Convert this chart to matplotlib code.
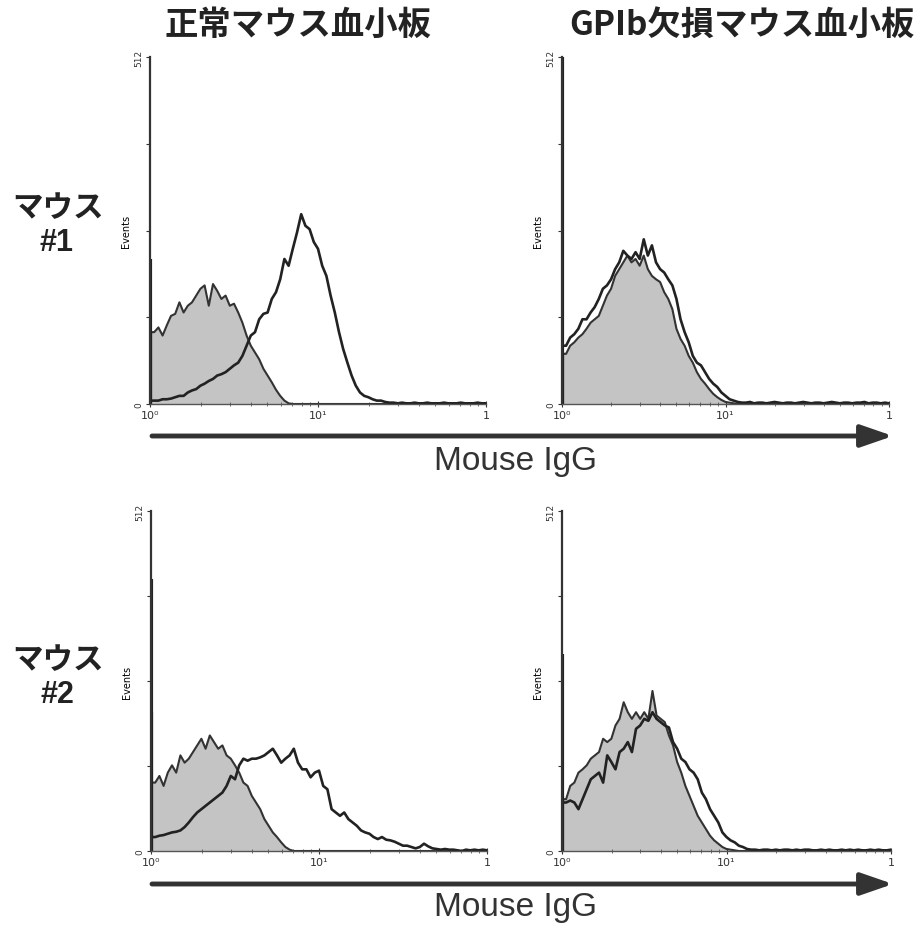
import numpy as np
import matplotlib.pyplot as plt
from matplotlib.patches import FancyArrowPatch

# histogram channels: 81 bins, 0.025 decade apart, 10^0 .. 10^2
decades = np.arange(81) * 0.025
intensity = 10 ** decades

col_titles = ['正常マウス血小板', 'GPIb欠損マウス血小板']
row_names = ['マウス', 'マウス']
row_ids = ['#1', '#2']
x_label = 'Mouse IgG'
y_label = 'Events'
x_tick_vals = [1, 10, 100]
x_tick_text = ['10⁰', '10¹', '1']
y_tick_vals = [0, 128, 256, 384, 512]
y_tick_text = ['0', '', '', '', '512']

# control (filled grey) and anti-mouse IgG (open line) counts per bin;
# the first bin holds the off-scale pile-up at the axis
normal1_ctrl = [108, 106, 113, 101, 116, 130, 133, 150, 135, 145,
                150, 160, 170, 175, 145, 177, 167, 155, 160, 145,
                148, 135, 120, 101, 86, 76, 66, 52, 42, 32,
                21, 12, 5, 1, 0, 0, 0, 0, 0, 0,
                0, 0, 0, 0, 0, 0, 0, 0, 0, 0,
                0, 0, 0, 0, 0, 0, 0, 0, 0, 0,
                0, 0, 0, 0, 0, 0, 0, 0, 0, 0,
                0, 0, 0, 0, 0, 0, 0, 0, 0, 0,
                0]
normal1_igg = [214, 5, 5, 7, 7, 8, 10, 12, 12, 17,
               20, 22, 27, 30, 34, 37, 42, 44, 47, 52,
               57, 61, 71, 86, 101, 106, 125, 133, 135, 155,
               165, 184, 214, 204, 229, 253, 280, 263, 258, 239,
               229, 204, 189, 160, 135, 106, 81, 61, 42, 27,
               17, 12, 10, 7, 5, 5, 3, 2, 2, 1,
               2, 1, 1, 2, 1, 1, 2, 1, 1, 1,
               2, 1, 1, 1, 2, 1, 1, 1, 2, 1,
               1]
gpib1_ctrl = [76, 74, 86, 91, 98, 103, 111, 120, 125, 130,
              145, 160, 170, 189, 199, 209, 219, 209, 214, 204,
              219, 199, 189, 184, 180, 165, 155, 140, 111, 96,
              86, 71, 61, 47, 37, 30, 22, 15, 10, 6,
              3, 2, 1, 0, 0, 0, 0, 0, 0, 0,
              0, 0, 0, 0, 0, 0, 0, 0, 0, 0,
              0, 0, 0, 0, 0, 0, 0, 0, 0, 0,
              0, 0, 0, 0, 0, 0, 0, 0, 0, 0,
              0]
gpib1_igg = [520, 86, 98, 103, 111, 125, 125, 135, 143, 155,
             170, 175, 184, 199, 209, 226, 219, 214, 224, 214,
             243, 219, 234, 209, 199, 194, 184, 175, 155, 125,
             106, 91, 71, 61, 57, 47, 37, 30, 25, 17,
             12, 7, 5, 3, 2, 2, 3, 1, 2, 2,
             1, 2, 3, 2, 1, 2, 2, 1, 2, 3,
             2, 1, 2, 2, 1, 2, 3, 2, 1, 2,
             2, 1, 2, 2, 3, 1, 2, 2, 1, 2,
             1]
normal2_ctrl = [209, 103, 113, 98, 118, 129, 118, 144, 133, 139,
                149, 159, 169, 154, 174, 164, 154, 159, 144, 139,
                129, 118, 103, 98, 83, 73, 63, 48, 38, 28,
                21, 13, 6, 2, 0, 0, 0, 0, 0, 0,
                0, 0, 0, 0, 0, 0, 0, 0, 0, 0,
                0, 0, 0, 0, 0, 0, 0, 0, 0, 0,
                0, 0, 0, 0, 0, 0, 0, 0, 0, 0,
                0, 0, 0, 0, 0, 0, 0, 0, 0, 0,
                0]
normal2_igg = [410, 21, 23, 24, 26, 28, 29, 31, 36, 43,
               51, 58, 63, 68, 73, 78, 83, 88, 98, 113,
               108, 129, 139, 136, 139, 139, 141, 144, 149, 154,
               144, 133, 139, 144, 154, 133, 123, 123, 111, 118,
               121, 98, 93, 63, 58, 53, 58, 48, 43, 38,
               31, 28, 26, 21, 18, 21, 17, 16, 14, 11,
               8, 8, 6, 4, 6, 11, 7, 4, 3, 2,
               3, 2, 2, 1, 0, 2, 1, 2, 1, 2,
               1]
gpib2_ctrl = [83, 78, 98, 103, 118, 123, 129, 139, 144, 149,
              169, 164, 169, 189, 199, 224, 209, 199, 209, 199,
              209, 199, 241, 204, 199, 194, 174, 159, 134, 118,
              98, 83, 68, 53, 43, 33, 23, 16, 11, 6,
              3, 2, 1, 0, 0, 0, 0, 0, 0, 0,
              0, 0, 0, 0, 0, 0, 0, 0, 0, 0,
              0, 0, 0, 0, 0, 0, 0, 0, 0, 0,
              0, 0, 0, 0, 0, 0, 0, 0, 0, 0,
              0]
gpib2_igg = [297, 73, 76, 73, 63, 78, 93, 108, 113, 118,
             103, 144, 134, 123, 149, 154, 164, 149, 184, 189,
             199, 196, 209, 199, 194, 189, 186, 164, 154, 139,
             134, 123, 118, 108, 88, 78, 63, 53, 43, 28,
             21, 16, 13, 8, 6, 3, 2, 2, 1, 2,
             2, 1, 2, 1, 2, 2, 1, 2, 1, 2,
             2, 1, 1, 2, 1, 2, 1, 1, 2, 1,
             2, 1, 2, 1, 1, 2, 1, 2, 1, 1,
             2]

panels = [[(normal1_ctrl, normal1_igg), (gpib1_ctrl, gpib1_igg)],
          [(normal2_ctrl, normal2_igg), (gpib2_ctrl, gpib2_igg)]]

plt.rcParams['font.family'] = ['Noto Sans CJK JP', 'DejaVu Sans']

W, H = 923, 928
fig = plt.figure(figsize=(W / 100, H / 100), dpi=100)


def px_box(left, top, right, bottom):
    return [left / W, 1 - bottom / H, (right - left) / W, (bottom - top) / H]


def curve(values):
    # first bin drawn as a spike on the axis, the rest as a polyline
    vals = np.asarray(values, dtype=float)
    ys = vals.copy()
    ys[0] = vals[1]
    return ys, vals[0]


boxes = [[px_box(150, 58, 486, 405), px_box(562, 58, 889, 405)],
         [px_box(151, 512, 487, 852), px_box(562, 512, 891, 852)]]

for r in range(2):
    for c in range(2):
        ctrl, igg = panels[r][c]
        ctrl_y, ctrl_spike = curve(ctrl)
        igg_y, igg_spike = curve(igg)
        ax = fig.add_axes(boxes[r][c])
        ax.fill_between(intensity, ctrl_y, color='#c4c4c4', lw=0)
        ax.plot(intensity, ctrl_y, color='#333333', lw=1.5)
        ax.plot(intensity, igg_y, color='#222222', lw=1.9)
        ax.vlines([intensity[0], intensity[0]], 0, [ctrl_spike, igg_spike],
                  color='#222222', lw=3)
        ax.set_xscale('log')
        ax.set_xlim(1, 100)
        ax.set_ylim(0, 512)
        for s in ['top', 'right']:
            ax.spines[s].set_visible(False)
        ax.spines['left'].set_linewidth(1.6)
        ax.spines['left'].set_color('#333333')
        ax.spines['bottom'].set_linewidth(1.0)
        ax.spines['bottom'].set_color('#555555')
        ax.set_xticks(x_tick_vals)
        ax.set_xticklabels(x_tick_text, fontsize=8, family='DejaVu Sans')
        ax.set_yticks(y_tick_vals)
        ax.set_yticklabels(y_tick_text, fontsize=6.5, rotation=90, va='center',
                           family='DejaVu Sans')
        ax.tick_params(axis='x', which='major', direction='inout', length=5,
                       width=0.8, pad=2, colors='#333333')
        ax.tick_params(axis='x', which='minor', direction='inout', length=3,
                       width=0.6, colors='#555555')
        ax.tick_params(axis='y', direction='out', length=3, width=0.8,
                       pad=2, colors='#333333')
        ax.set_ylabel(y_label, fontsize=7, labelpad=2, family='DejaVu Sans')

# column titles
for c, title in enumerate(col_titles):
    fig.text([298, 742][c] / W, 1 - 25 / H, title, ha='center', va='center',
             fontsize=24, fontweight='bold', color='#222222')

# row labels
for r in range(2):
    y0 = [208, 660][r]
    fig.text(58 / W, 1 - y0 / H, row_names[r], ha='center', va='center',
             fontsize=22, fontweight='bold', color='#222222')
    fig.text(57 / W, 1 - (y0 + 35) / H, row_ids[r], ha='center', va='center',
             fontsize=22, fontweight='bold', family='Liberation Sans',
             color='#222222')

# x-axis arrows with label
for y_arrow, y_text in [(437, 462), (885, 908)]:
    arrow = FancyArrowPatch((152 / W, 1 - y_arrow / H), (893 / W, 1 - y_arrow / H),
                            transform=fig.transFigure,
                            arrowstyle='-|>,head_length=1.3,head_width=0.45',
                            mutation_scale=15, lw=3.5, color='#333333',
                            shrinkA=0, shrinkB=0)
    fig.add_artist(arrow)
    fig.text(515 / W, 1 - y_text / H, x_label, ha='center', va='center',
             fontsize=24, family='Liberation Sans', color='#333333')

fig.savefig('out.png', dpi=100)
